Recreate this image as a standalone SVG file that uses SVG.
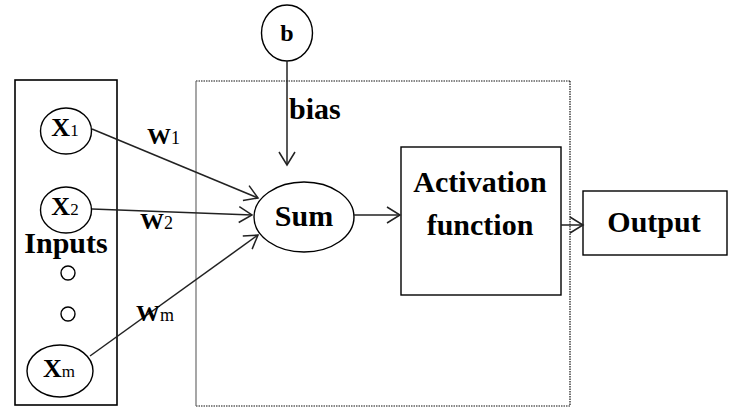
<svg xmlns="http://www.w3.org/2000/svg" width="735" height="409" viewBox="0 0 735 409">
<defs>
<style>
.t{font-family:"Liberation Serif","Times New Roman",serif;font-weight:bold;fill:#000}
.big{font-size:30px}
.sh{fill:#fff;stroke:#000;stroke-width:1.4}
.ln{fill:none;stroke:#222;stroke-width:1.5}
.dot{fill:none;stroke:#111;stroke-width:1.2;stroke-dasharray:1.5 1}
</style>
<marker id="ah" markerUnits="userSpaceOnUse" markerWidth="16" markerHeight="20" viewBox="0 0 16 20" refX="14" refY="10" orient="auto">
<path d="M1,2 L14,10 L1,18" fill="none" stroke="#222" stroke-width="1.5"/>
</marker>
</defs>
<rect width="735" height="409" fill="#fff"/>

<g id="neuron-frame">
<line class="dot" x1="196" y1="81" x2="570" y2="81"/>
<line class="dot" x1="570" y1="81" x2="570" y2="406"/>
<line class="dot" x1="196" y1="406" x2="570" y2="406"/>
<line x1="196" y1="81" x2="196" y2="406" stroke="#777" stroke-width="1.3"/>
</g>

<g id="inputs">
<rect x="15" y="80" width="102" height="325" fill="none" stroke="#000" stroke-width="1.6"/>
<text class="t big" x="66" y="253" text-anchor="middle">Inputs</text>
</g>

<g id="x1">
<ellipse class="sh" cx="66" cy="131" rx="25.5" ry="23"/>
<text class="t" x="65" y="136" text-anchor="middle" font-size="26">X<tspan font-size="17" font-weight="normal">1</tspan></text>
</g>
<g id="x2">
<ellipse class="sh" cx="66" cy="210" rx="25.5" ry="23"/>
<text class="t" x="65" y="215" text-anchor="middle" font-size="26">X<tspan font-size="17" font-weight="normal">2</tspan></text>
</g>
<g id="dots">
<circle class="sh" cx="68" cy="273" r="7"/>
<circle class="sh" cx="68" cy="314" r="7"/>
</g>
<g id="xm">
<ellipse class="sh" cx="60" cy="371" rx="33" ry="26"/>
<text class="t" x="59" y="377" text-anchor="middle" font-size="26">X<tspan font-size="17" font-weight="normal">m</tspan></text>
</g>

<g id="b">
<ellipse class="sh" cx="287" cy="33" rx="25.5" ry="28"/>
<text class="t" x="287" y="41" text-anchor="middle" font-size="24">b</text>
</g>

<g id="sum">
<ellipse class="sh" cx="304" cy="217" rx="50" ry="35"/>
<text class="t big" x="304" y="226" text-anchor="middle">Sum</text>
</g>

<g id="activation">
<rect class="sh" x="401" y="147" width="160" height="148"/>
<text class="t big" x="480" y="192" text-anchor="middle">Activation</text>
<text class="t big" x="480" y="235" text-anchor="middle">function</text>
</g>

<g id="output">
<rect class="sh" x="583" y="191" width="144" height="64"/>
<text class="t big" x="654" y="232" text-anchor="middle">Output</text>
</g>

<g id="connectors">
<line class="ln" x1="92" y1="129" x2="258" y2="198" marker-end="url(#ah)"/>
<line class="ln" x1="92" y1="209" x2="252" y2="215" marker-end="url(#ah)"/>
<line class="ln" x1="90" y1="356" x2="258" y2="235" marker-end="url(#ah)"/>
<line class="ln" x1="287" y1="61" x2="287" y2="165" marker-end="url(#ah)"/>
<line class="ln" x1="354" y1="215" x2="400" y2="215" marker-end="url(#ah)"/>
<line class="ln" x1="561" y1="225" x2="583" y2="225" marker-end="url(#ah)"/>
</g>

<g id="labels">
<text class="t" x="147" y="144" font-size="24">W<tspan font-size="18" font-weight="normal">1</tspan></text>
<text class="t" x="140" y="229" font-size="24">W<tspan font-size="18" font-weight="normal">2</tspan></text>
<text class="t" x="136" y="321" font-size="24">W<tspan font-size="18" font-weight="normal">m</tspan></text>
<text class="t big" x="289" y="119">bias</text>
</g>
</svg>
